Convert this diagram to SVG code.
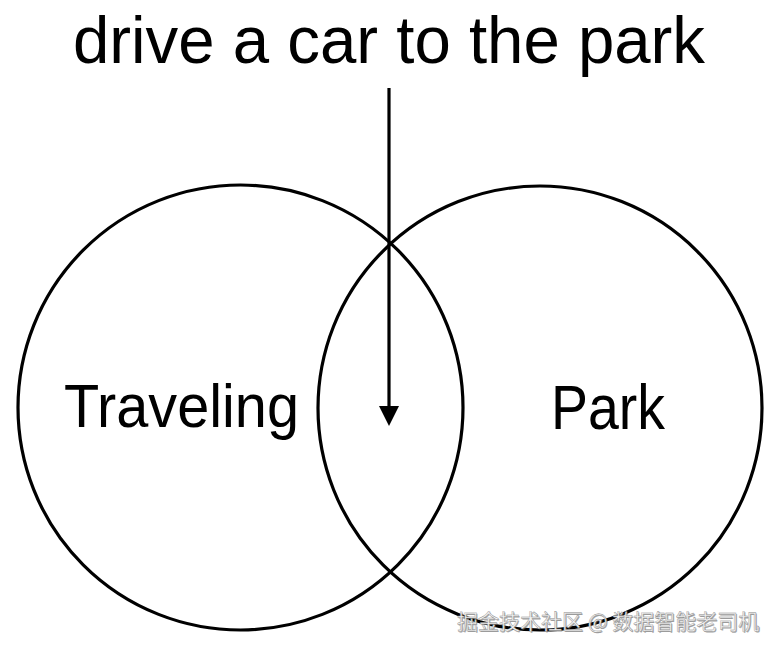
<svg xmlns="http://www.w3.org/2000/svg" width="778" height="653" viewBox="0 0 778 653">
<style>
.set{fill:none;stroke:#000;stroke-width:3.2}
.lbl{font-family:"Liberation Sans",Arial,sans-serif;fill:#000}
.wm{font-family:"Noto Sans CJK SC","Noto Sans",sans-serif;font-size:21px}
</style>
<rect width="778" height="653" fill="#fff"/>
<text class="lbl" x="389" y="63" font-size="66" text-anchor="middle" textLength="632" lengthAdjust="spacingAndGlyphs">drive a car to the park</text>
<g id="traveling">
<circle class="set" cx="240.5" cy="407.5" r="222.5"/>
<text class="lbl" x="64" y="427" font-size="61" textLength="235" lengthAdjust="spacingAndGlyphs">Traveling</text>
</g>
<g id="park">
<circle class="set" cx="540" cy="408" r="222"/>
<text class="lbl" x="551" y="429" font-size="63" textLength="114" lengthAdjust="spacingAndGlyphs">Park</text>
</g>
<g id="connectors">
<line x1="389" y1="88" x2="389" y2="406" stroke="#000" stroke-width="3.2"/>
<path d="M379,406 L399,406 L389,426 Z" fill="#000"/>
</g>
<g id="watermark">
<text class="wm" x="458" y="630" fill="#666" opacity="0.6">掘金技术社区 @ 数据智能老司机</text>
<text class="wm" x="457" y="629" fill="#f4f4f4" stroke="#8a8a8a" stroke-width="0.4">掘金技术社区 @ 数据智能老司机</text>
</g>
</svg>
